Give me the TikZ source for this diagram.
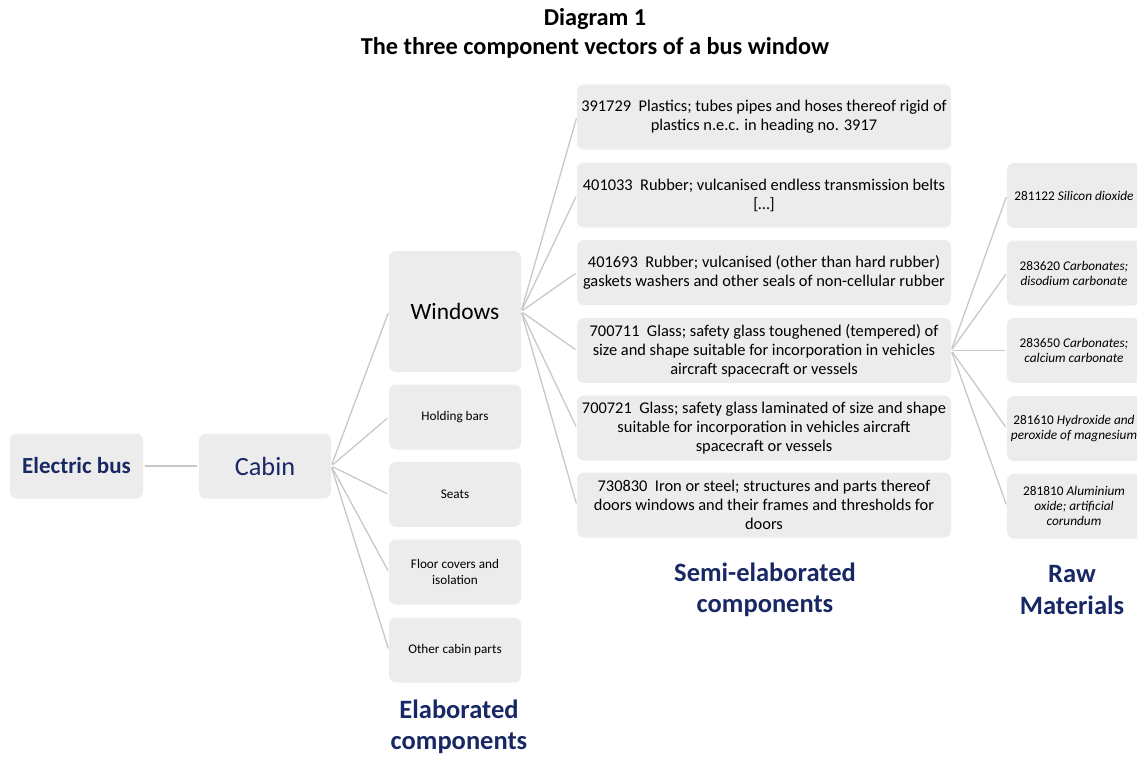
\documentclass[tikz,border=0pt]{standalone}
\usepackage{fontspec}
\setmainfont{Carlito}

\definecolor{boxgray}{RGB}{236,236,236}
\definecolor{linegray}{RGB}{200,200,200}
\definecolor{navy}{RGB}{24,40,100}

\newcommand{\fsz}[2]{\fontsize{#1}{#2}\selectfont}

\begin{document}
\begin{tikzpicture}[%
        x = 1pt,
        y = -1pt,
        line cap = round,
        every node/.style = {%
            align = center,
            inner sep = 0pt
        },
        compbox/.style = {%
            fill = boxgray,
            rounded corners = 7pt,
            minimum height = 65pt
        },
        elabbox/.style = {%
            compbox,
            minimum width = 132pt,
            font = \fsz{13.2}{15.5}
        },
        semibox/.style = {%
            compbox,
            minimum width = 374pt,
            font = \fsz{16.4}{19}
        },
        rawbox/.style = {%
            compbox,
            minimum width = 134pt,
            font = \fsz{13.3}{15}
        },
        caption/.style = {%
            text = navy,
            font = \fsz{26.5}{31.5}\bfseries
        },
        link/.style = {%
            draw = linegray,
            line width = 1.3pt,
            shorten < = 2pt,
            shorten > = 2pt
        }
    ]

        % Page frame.
        \clip (0, 0) rectangle (1137, 757);

        % Title.
        \node[font = \fsz{24.3}{29}\bfseries] (title) at (595, 33)
            {Diagram 1\\The three component vectors of a bus window};

        % Bus and cabin.
        \node[compbox, minimum width = 133pt, text = navy,
            font = \fsz{23}{26}\bfseries] (bus) at (76.5, 466) {Electric bus};
        \node[compbox, minimum width = 132pt, text = navy,
            font = \fsz{26.3}{30}] (cabin) at (265, 466) {Cabin};

        % Elaborated components.
        \node[elabbox, minimum height = 121pt, font = \fsz{23.4}{27}] (windows)
            at (455, 311.5) {Windows};
        \node[elabbox] (bars) at (455, 417) {Holding bars};
        \node[elabbox] (seats) at (455, 494.5) {Seats};
        \node[elabbox] (floor) at (455, 572) {Floor covers and\\isolation};
        \node[elabbox] (other) at (455, 650) {Other cabin parts};

        % Semi-elaborated components.
        \node[semibox] (s391729) at (764, 117)
            {391729\ \ Plastics; tubes pipes and hoses thereof rigid of\\plastics n.e.c. in heading no. 3917};
        \node[semibox] (s401033) at (764, 195)
            {401033\ \ Rubber; vulcanised endless transmission belts\\{[\ldots]}};
        \node[semibox] (s401693) at (764, 272.5)
            {401693\ \ Rubber; vulcanised (other than hard rubber)\\gaskets washers and other seals of non-cellular rubber};
        \node[semibox] (s700711) at (764, 350.5)
            {700711\ \ Glass; safety glass toughened (tempered) of\\size and shape suitable for incorporation in vehicles\\aircraft spacecraft or vessels};
        \node[semibox] (s700721) at (764, 428)
            {700721\ \ Glass; safety glass laminated of size and shape\\suitable for incorporation in vehicles aircraft\\spacecraft or vessels};
        \node[semibox] (s730830) at (764, 505)
            {730830\ \ Iron or steel; structures and parts thereof\\doors windows and their frames and thresholds for\\doors};

        % Raw materials.
        \node[rawbox] (r281122) at (1074, 195.5) {281122 \textit{Silicon dioxide}};
        \node[rawbox] (r283620) at (1074, 273) {283620 \textit{Carbonates;}\\\textit{disodium carbonate}};
        \node[rawbox] (r283650) at (1074, 350.5) {283650 \textit{Carbonates;}\\\textit{calcium carbonate}};
        \node[rawbox] (r281610) at (1074, 428.5) {281610 \textit{Hydroxide and}\\\textit{peroxide of magnesium}};
        \node[rawbox] (r281810) at (1074, 506) {281810 \textit{Aluminium}\\\textit{oxide; artificial}\\\textit{corundum}};

        % Connectors.
        \draw[link] (bus.east) -- (cabin.west);
        \foreach \part in {windows, bars, seats, floor, other}
            \draw[link] (cabin.east) -- (\part.west);
        \foreach \part in {s391729, s401033, s401693, s700711, s700721, s730830}
            \draw[link] (windows.east) -- (\part.west);
        \foreach \part in {r281122, r283620, r283650, r281610, r281810}
            \draw[link] (s700711.east) -- (\part.west);

        % Level captions.
        \node[caption] (elabcap) at (459, 727) {Elaborated\\components};
        \node[caption] (semicap) at (765, 590) {Semi-elaborated\\components};
        \node[caption] (rawcap) at (1072, 590) {Raw\\Materials};
    \end{tikzpicture}
\end{document}
